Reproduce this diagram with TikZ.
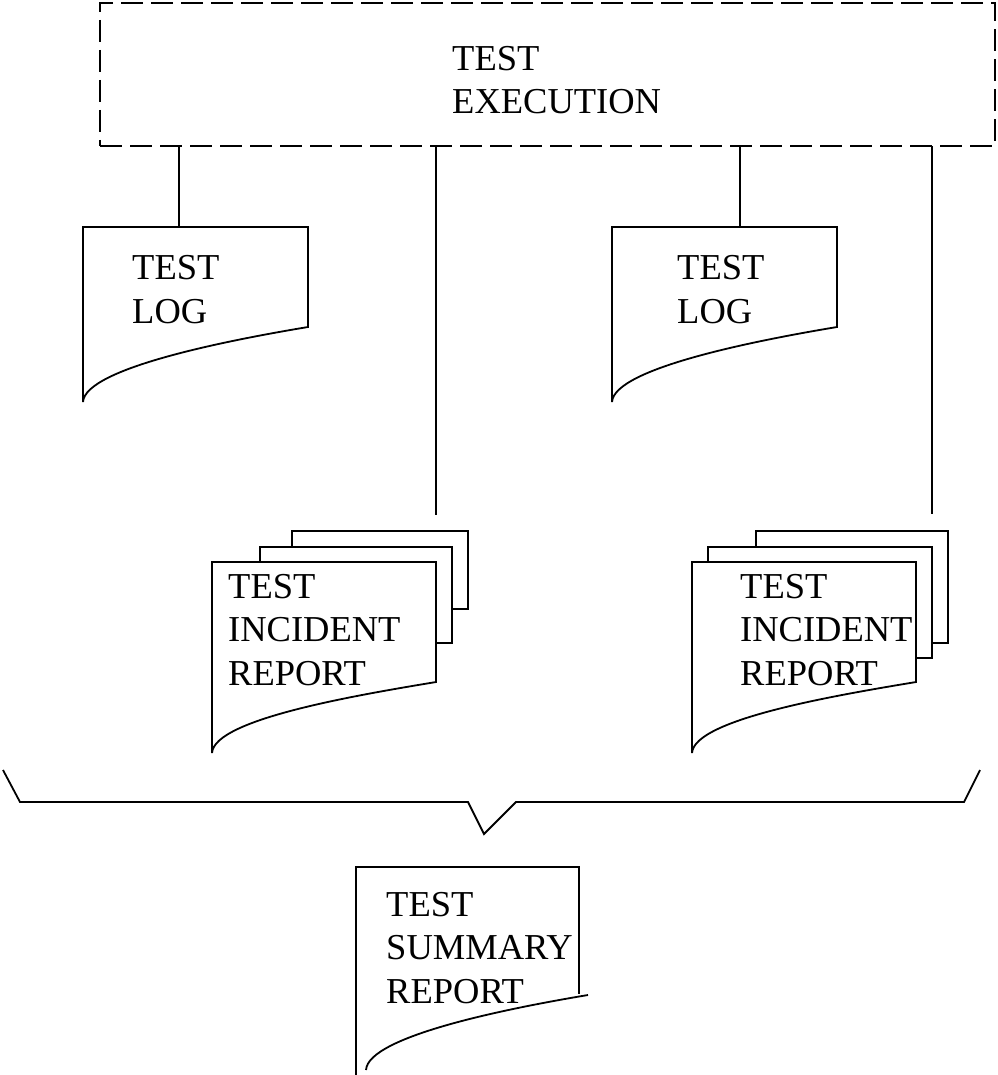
\documentclass[tikz,border=0pt]{standalone}
\usepackage{fontspec}
\setmainfont{Liberation Serif}
\def\docpage(#1,#2)(#3:#4:#5){\draw[docline, fill=white] (#1,#2) -- ++(#3,0) -- ++(0,#4) .. controls ({#1+#3-78},{#2+#4+13}) and ({#1+2},{#2+#5-34}) .. ({#1},{#2+#5}) -- cycle;}

\begin{document}
\begin{tikzpicture}[x=1pt, y=-1pt,
	docline/.style={line width=1.8pt, line join=miter},
	doctext/.style={anchor=base west, align=left, inner sep=0pt, font=\fontsize{36.5}{43.5}\selectfont},
	execbox/.style={draw, dash pattern=on 22pt off 8pt, line width=1.8pt, inner sep=0pt, outer sep=0pt, minimum width=895pt, minimum height=143pt}]
			%%%%% START %%%%%
			\useasboundingbox (0, 0) rectangle (997, 1075);
			
			\node[execbox] (exec) at (547.5, 74.5) {};
			\node[doctext] (exectext) at (452, 114) {TEST\\EXECUTION};
			
			\docpage(83,227)(225:100:175);
			\node[doctext] (log1) at (132, 323) {TEST\\LOG};
			\coordinate (log1top) at (179, 227);
			
			\docpage(612,227)(225:100:175);
			\node[doctext] (log2) at (677, 323) {TEST\\LOG};
			\coordinate (log2top) at (740, 227);
			
			\draw[docline, fill=white] (292, 531) rectangle (468, 609);
			\draw[docline, fill=white] (260, 547) rectangle (452, 643);
			\docpage(212,562)(224:120:191);
			\node[doctext] (inc1) at (228, 685) {TEST\\INCIDENT\\REPORT};
			\coordinate (inc1end) at (436, 515);
			
			\draw[docline, fill=white] (756, 531) rectangle (948, 643);
			\draw[docline, fill=white] (708, 547) rectangle (932, 658);
			\docpage(692,562)(224:120:191);
			\node[doctext] (inc2) at (740, 685) {TEST\\INCIDENT\\REPORT};
			\coordinate (inc2end) at (932, 514);
			
			\draw[docline] (exec.south -| log1top) -- (log1top);
			\draw[docline] (exec.south -| log2top) -- (log2top);
			\draw[docline] (exec.south -| inc1end) -- (inc1end);
			\draw[docline] (exec.south -| inc2end) -- (inc2end);
			
			\draw[docline] (3, 770) -- (20, 802) -- (468, 802) -- (484, 834) -- (516, 802) -- (964, 802) -- (980, 770);
			
			\draw[docline] (356, 1075) -- (356, 867) -- (579, 867) -- (579, 994);
			\draw[docline] (588, 995) .. controls (510, 1008) and (368, 1036) .. (366, 1070);
			\node[doctext] (summ) at (386, 1003) {TEST\\SUMMARY\\REPORT};
			
			%%%%% END %%%%%
\end{tikzpicture}
\end{document}
